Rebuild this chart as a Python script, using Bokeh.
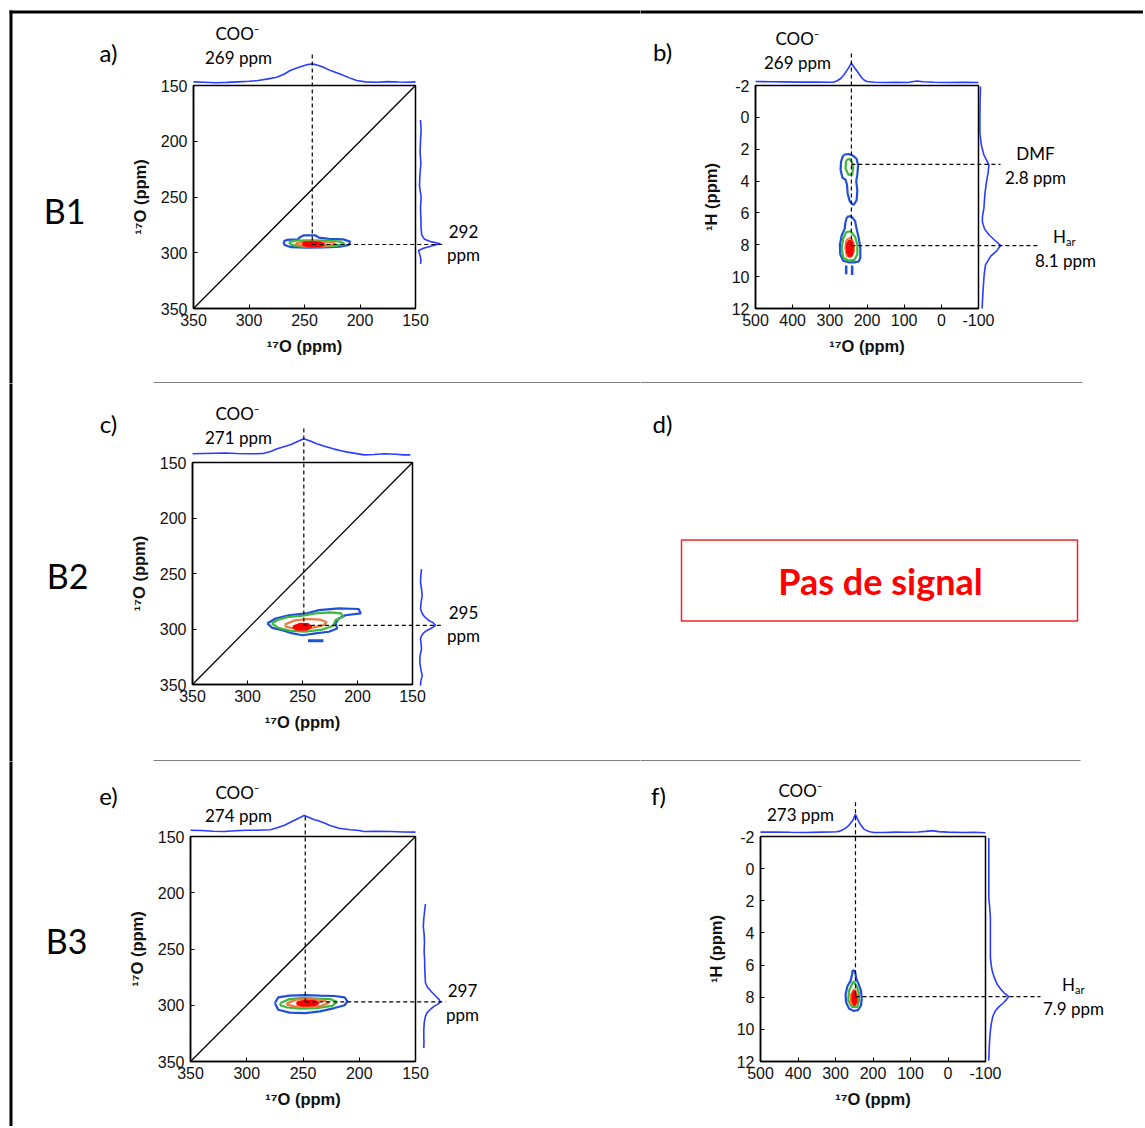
from bokeh.plotting import figure
from bokeh.models import Range1d, FixedTicker
from bokeh.layouts import row, column
from bokeh.core.properties import value
from bokeh.embed import file_html
from bokeh.resources import INLINE

# ------------------------------------------------------------------ data
O17_TICKS = [150, 200, 250, 300, 350]
O17_WIDE_TICKS = [-100, 0, 100, 200, 300, 400, 500]
H1_TICKS = [-2, 0, 2, 4, 6, 8, 10, 12]
O17_LABEL = "¹⁷O (ppm)"
H1_LABEL = "¹H (ppm)"

ROW_NAMES = ["B1", "B2", "B3"]
PANEL_LETTERS = ["a)", "b)", "c)", "d)", "e)", "f)"]
COO_TEXT = "COO⁻"
COO_SHIFTS = ["269 ppm", "269 ppm", "271 ppm", "274 ppm", "273 ppm"]   # a, b, c, e, f
O_CROSS_SHIFTS = ["292", "295", "297"]                                 # a, c, e
DMF_TEXT = ["DMF", "2.8 ppm"]
HAR_SHIFTS = ["8.1 ppm", "7.9 ppm"]                                    # b, f
NO_SIGNAL = "Pas de signal"

# peak positions (ppm) of the dashed guides
a_peak = (243, 292.6)
b_peak_x, b_dmf_y, b_har_y = 242, 2.95, 8.05
c_peak = (248.8, 296.8)
e_peak = (248, 297)
f_peak = (246.7, 7.96)

# ---- panel a projections
a_top_ppm = [350, 340, 330, 320, 310, 300, 292, 284, 275, 268, 263, 255, 248, 243, 238, 233, 226, 218, 210, 203, 195, 185, 175, 165, 158, 150]
a_top_int = [0.02, 0.0, -0.03, -0.01, 0.02, 0.05, 0.09, 0.17, 0.27, 0.45, 0.64, 0.82, 0.95, 1.0, 0.93, 0.82, 0.62, 0.45, 0.25, 0.09, 0.02, 0.0, 0.03, 0.01, 0.0, 0.02]
a_right_ppm = [181, 190, 200, 210, 220, 230, 240, 250, 260, 270, 278, 284, 288, 290, 292, 294, 296, 298, 301, 304, 307, 310]
a_right_int = [0.0, 0.03, 0.0, -0.02, 0.02, -0.03, -0.05, 0.03, 0.0, 0.02, 0.03, 0.06, 0.2, 0.5, 1.0, 0.55, 0.15, -0.1, -0.05, 0.0, 0.02, 0.0]
# ---- panel a contours
a_blue_x = [269, 266, 256, 254, 251, 240, 237, 228, 215, 209, 210, 218, 232, 248, 262, 268]
a_blue_y = [290, 288.5, 288, 286, 284.5, 284.5, 286.5, 287.5, 288, 290, 293, 294.5, 295.3, 295.5, 295, 293]
a_green_x = [264, 257, 245, 230, 218, 214, 222, 238, 252, 262]
a_green_y = [290.5, 289, 288.8, 289, 290, 292, 293.8, 294.5, 294.5, 293]
a_orange_x = [258, 250, 238, 224, 222, 232, 246, 256]
a_orange_y = [291.5, 290.2, 290, 290.8, 292.5, 293.8, 294, 293.2]
a_red_x = [251, 244, 236, 232, 236, 246, 251]
a_red_y = [291, 290.5, 290.8, 292.5, 294.2, 294.3, 293]

# ---- panel b projections
b_top_ppm = [500, 460, 420, 380, 340, 300, 289, 280, 270, 262, 252, 242, 234, 226, 219, 213, 206, 200, 180, 150, 120, 90, 75, 65, 50, 20, -20, -60, -100]
b_top_int = [0.05, 0.04, 0.03, 0.02, 0.02, 0.01, 0.02, 0.09, 0.22, 0.4, 0.68, 1.0, 0.78, 0.57, 0.38, 0.22, 0.1, 0.05, 0.01, 0.0, 0.01, 0.0, 0.05, 0.08, 0.04, 0.01, 0.0, 0.01, 0.0]
b_right_ppm = [-1.94, -1.0, 0.0, 1.0, 1.8, 2.35, 2.98, 3.5, 4.03, 4.8, 5.7, 6.2, 6.54, 7.0, 7.37, 7.7, 8.04, 8.4, 8.73, 9.26, 9.7, 10.1, 11.0, 12.0]
b_right_int = [0.0, -0.02, -0.03, -0.03, 0.05, 0.17, 0.42, 0.38, 0.3, 0.22, 0.17, 0.1, 0.09, 0.2, 0.42, 0.7, 1.0, 0.8, 0.5, 0.25, 0.2, 0.17, 0.12, 0.08]
# ---- panel b contours
b_dmf_blue_x = [262, 250, 238, 228, 224, 226, 229, 226, 228, 236, 246, 252, 254, 258, 266, 271, 270, 266]
b_dmf_blue_y = [2.35, 2.3, 2.4, 2.6, 3.0, 3.6, 4.0, 4.6, 5.2, 5.5, 5.3, 4.8, 4.2, 3.9, 3.8, 3.3, 2.8, 2.5]
b_dmf_green_x = [256, 248, 240, 237, 240, 250, 258]
b_dmf_green_y = [2.7, 2.6, 2.8, 3.2, 3.6, 3.6, 3.2]
b_har_blue_x = [254, 243, 232, 228, 222, 218, 218, 222, 234, 250, 264, 272, 273, 268, 260, 258]
b_har_blue_y = [6.25, 6.2, 6.5, 7.0, 7.6, 8.2, 8.8, 9.05, 9.1, 9.1, 9.0, 8.6, 8.0, 7.4, 7.0, 6.6]
b_har_green_x = [256, 244, 232, 226, 226, 234, 250, 264, 268, 264]
b_har_green_y = [7.2, 7.15, 7.5, 8.0, 8.6, 8.95, 9.0, 8.8, 8.2, 7.6]
b_har_orange_x = [250, 242, 236, 235, 242, 254, 258, 256]
b_har_orange_y = [7.6, 7.6, 7.9, 8.4, 8.75, 8.7, 8.2, 7.8]
b_har_red_x = [248, 241, 238, 240, 247, 253, 254]
b_har_red_y = [7.75, 7.8, 8.1, 8.6, 8.75, 8.5, 8.0]
b_tail1_x, b_tail1_y = [256, 256], [9.3, 9.85]
b_tail2_x, b_tail2_y = [240, 240], [9.3, 9.9]

# ---- panel c projections
c_top_ppm = [350, 340, 330, 320, 310, 300, 292, 285, 279, 273, 267, 261, 255, 249, 243, 237, 230, 222, 215, 209, 202, 194, 185, 176, 165, 158, 152]
c_top_int = [0.0, 0.02, 0.04, 0.05, 0.02, 0.0, 0.0, 0.03, 0.15, 0.33, 0.47, 0.6, 0.8, 1.0, 0.85, 0.67, 0.5, 0.33, 0.2, 0.11, 0.03, -0.07, -0.05, 0.0, -0.03, -0.07, -0.07]
c_right_ppm = [246, 252, 258, 264, 270, 276, 282, 286, 288, 290, 292.3, 294.5, 296.8, 298.5, 299.8, 301.5, 303.4, 306, 308.8, 313, 318, 324, 330, 336, 342, 347, 351]
c_right_int = [0.0, -0.05, -0.07, 0.0, 0.05, -0.03, -0.07, 0.05, 0.16, 0.3, 0.52, 0.85, 1.0, 0.8, 0.64, 0.35, 0.16, 0.0, -0.07, -0.03, 0.0, -0.1, -0.12, -0.05, 0.05, -0.05, -0.07]
# ---- panel c contours
c_blue_x = [282, 274.5, 262.5, 247, 235, 217, 199, 197, 211, 217, 220, 218.5, 226, 238, 250, 259, 268.5, 277.5]
c_blue_y = [295, 290.5, 287.6, 286, 283, 281.5, 282, 286, 287.6, 290.5, 295, 299.5, 302.5, 304, 305.6, 304, 301, 299]
c_blob_x, c_blob_y = [245, 231], [310.5, 310.5]
c_green_x = [278, 272, 262, 250, 238, 225, 215, 213, 220, 222, 232, 248, 262, 272]
c_green_y = [295, 291.5, 289, 288, 286, 285, 286, 289, 292, 297, 300.5, 302.5, 301.5, 299]
c_orange_x = [266, 258, 246, 234, 228, 232, 244, 258, 265]
c_orange_y = [296, 292.5, 291, 291.5, 294, 297, 299.5, 299.5, 298]
c_red_x = [258, 252, 245, 242, 246, 255, 258]
c_red_y = [297.5, 295.3, 295.5, 298, 300.5, 300.5, 299]

# ---- panel e projections
e_top_ppm = [350, 340, 330, 320, 310, 300, 290, 279, 273, 267, 262, 258, 253, 249, 244, 240, 237, 231, 226, 218, 208, 200, 196, 185, 172, 160, 150]
e_top_int = [0.02, 0.0, -0.05, -0.07, -0.02, 0.02, 0.02, 0.05, 0.18, 0.33, 0.52, 0.67, 0.85, 1.0, 0.85, 0.72, 0.67, 0.5, 0.33, 0.15, 0.05, 0.0, -0.07, -0.05, -0.07, -0.1, -0.11]
e_right_ppm = [210, 216, 223, 230, 237, 244, 252, 260, 268, 275, 280, 284, 288.7, 292, 295, 297, 299, 301, 303.6, 306.5, 309.6, 315, 321.4, 328, 333, 338]
e_right_int = [0.1, 0.05, 0.0, -0.03, 0.02, 0.04, 0.02, 0.05, 0.06, 0.08, 0.1, 0.22, 0.5, 0.72, 0.92, 1.0, 0.85, 0.6, 0.4, 0.2, 0.1, 0.03, 0.0, 0.0, 0.01, 0.0]
# ---- panel e contours
e_blue_x = [275, 272, 262, 248, 235, 222, 213, 210.5, 213, 222, 235, 248, 262, 272]
e_blue_y = [298, 293, 291.5, 291, 291.5, 291.8, 293, 296.5, 300, 302.5, 305.5, 307, 306.5, 304]
e_green_x = [270, 262, 250, 238, 226, 220, 224, 238, 252, 264, 270]
e_green_y = [298, 294.5, 293.5, 294, 294.5, 297, 300.5, 302.5, 303, 302, 300]
e_orange_x = [264, 256, 244, 232, 227, 234, 246, 258, 264]
e_orange_y = [298, 295, 294.5, 295.5, 298, 300.5, 301.5, 301, 299.5]
e_red_x = [255, 248, 240, 236, 240, 250, 255]
e_red_y = [297.5, 296, 296, 298, 300, 300.3, 299]

# ---- panel f projections
f_top_ppm = [500, 460, 420, 380, 340, 310, 298, 291, 282, 273, 266, 260, 253, 247, 241, 233, 225, 216, 208, 198, 170, 140, 110, 80, 60, 45, 38, 25, 0, -40, -70, -100]
f_top_int = [0.02, 0.03, 0.01, 0.0, 0.02, 0.03, 0.04, 0.06, 0.13, 0.24, 0.36, 0.51, 0.7, 1.0, 0.72, 0.42, 0.2, 0.09, 0.04, 0.0, 0.0, 0.02, 0.01, 0.03, 0.06, 0.09, 0.09, 0.05, 0.02, 0.0, 0.01, -0.01]
f_right_ppm = [-1.9, -1.0, 0.0, 1.0, 1.82, 2.5, 3.06, 4.0, 5.0, 5.54, 6.0, 6.36, 6.8, 7.19, 7.5, 7.71, 7.96, 8.15, 8.33, 8.6, 8.84, 9.2, 9.67, 10.1, 10.5, 11.2, 11.94]
f_right_int = [0.0, 0.0, 0.0, 0.0, 0.0, 0.05, 0.08, 0.08, 0.08, 0.08, 0.12, 0.17, 0.28, 0.42, 0.6, 0.75, 1.0, 0.88, 0.75, 0.5, 0.33, 0.2, 0.12, 0.08, 0.05, 0.02, 0.0]
# ---- panel f contours
f_blue_x = [254, 248, 244, 238, 232, 230, 232, 240, 252, 264, 272, 273, 268, 260, 256]
f_blue_y = [6.3, 6.4, 6.9, 7.2, 7.6, 8.1, 8.5, 8.8, 8.85, 8.7, 8.3, 7.8, 7.3, 7.0, 6.6]
f_green_x = [252, 244, 238, 237, 242, 256, 266, 264, 258]
f_green_y = [7.0, 7.3, 7.7, 8.2, 8.6, 8.6, 8.2, 7.6, 7.3]
f_orange_x = [250, 244, 242, 248, 258, 260]
f_orange_y = [7.5, 7.7, 8.2, 8.5, 8.4, 7.9]
f_red_x = [250, 245, 244, 250, 255, 254]
f_red_y = [7.6, 7.9, 8.3, 8.5, 8.2, 7.8]

# ------------------------------------------------------------------ style
SPEC = "#2a3cff"
C_BLUE = "#2050d8"
C_GREEN = "#3cb93c"
C_ORANGE = "#f07838"
C_RED = "#ff0000"
CAL = "Lato"
ARIAL = "Liberation Sans"
XR = 1143   # right edge of layout (page px)
YB = 1126   # bottom edge of layout (page px)


def make_fig(box, frame, xr, yr, xticks=None, yticks=None, xlabel=None, ylabel=None):
    bx0, by0, bx1, by1 = box
    L, T, R, B = frame
    axes = xticks is not None
    kw = {} if axes else dict(x_axis_location=None, y_axis_location=None)
    p = figure(width=bx1 - bx0, height=by1 - by0, output_backend="svg", toolbar_location=None,
               x_range=Range1d(xr[0], xr[1]), y_range=Range1d(yr[1], yr[0]),
               min_border_left=L - bx0, min_border_right=bx1 - R,
               min_border_top=T - by0, min_border_bottom=by1 - B, **kw)
    p.xgrid.visible = False
    p.ygrid.visible = False
    p.border_fill_color = "white"
    p.background_fill_color = "white"
    if axes:
        p.outline_line_color = "black"
        p.outline_line_width = 1.5
        for ax, ticks, lab, stand, lstand in ((p.xaxis[0], xticks, xlabel, 5, 8),
                                              (p.yaxis[0], yticks, ylabel, 6, 9)):
            ax.ticker = FixedTicker(ticks=ticks)
            ax.major_label_overrides = {t: str(t) for t in ticks if t < 0}
            ax.axis_label = lab
            ax.major_tick_in = 4
            ax.major_tick_out = 0
            ax.minor_tick_in = 0
            ax.minor_tick_out = 0
            ax.major_tick_line_color = "black"
            ax.axis_line_color = "black"
            ax.axis_line_width = 1.5
            ax.major_label_text_font = ARIAL
            ax.major_label_text_font_size = "16px"
            ax.major_label_text_color = "#111111"
            ax.major_label_standoff = stand
            ax.axis_label_text_font = ARIAL
            ax.axis_label_text_font_size = "16.5px"
            ax.axis_label_text_font_style = "bold"
            ax.axis_label_text_color = "#111111"
            ax.axis_label_standoff = lstand
    else:
        p.outline_line_color = None

    def X(px):
        return xr[0] + (px - L) / (R - L) * (xr[1] - xr[0])

    def Y(py):
        return yr[0] + (py - T) / (B - T) * (yr[1] - yr[0])
    return p, X, Y


def txt(p, x, y, s, size, font=CAL, color="black", style="normal", align="center"):
    p.text(x=[x], y=[y], text=[s], text_font=value(font), text_font_size=value(size),
           text_color=color, text_font_style=style, text_align=align,
           text_baseline="middle", level="overlay")


def seg(p, xs, ys, color="black", width=1.0, dash="solid"):
    p.line(x=xs, y=ys, line_color=color, line_width=width, line_dash=dash, level="overlay")


def top_proj(p, Y, frame, ppm, inten, gap, h):
    T = frame[1]
    p.line(x=ppm, y=[Y(T - gap - v * h) for v in inten], line_color=SPEC, line_width=1.6, level="overlay")


def right_proj(p, X, frame, ppm, inten, gap, w):
    R = frame[2]
    p.line(x=[X(R + gap + v * w) for v in inten], y=ppm, line_color=SPEC, line_width=1.6, level="overlay")


def contour(p, xs, ys, color, fill=False, width=2.2):
    if fill:
        p.patch(x=xs, y=ys, fill_color=color, line_color=color, line_width=width)
    else:
        p.line(x=xs + xs[:1], y=ys + ys[:1], line_color=color, line_width=width)


def borders(p, X, Y, left=None, top=None, sep=None):
    if left is not None:
        seg(p, [X(10.5), X(10.5)], [Y(left[0]), Y(left[1])], width=3)
    if top is not None:
        seg(p, [X(top[0]), X(top[1])], [Y(11.5), Y(11.5)], width=3)
    if sep is not None:
        seg(p, [X(sep[0]), X(sep[1])], [Y(sep[2]), Y(sep[2])], width=1.2)


DASH = "4 3"

# ------------------------------------------------------------------ panel a
FA = (193, 85, 415, 308)
pa, Xa, Ya = make_fig((0, 0, 640, 383), FA, (350, 150), (150, 350), O17_TICKS, O17_TICKS, O17_LABEL, O17_LABEL)
pa.line(x=[350, 150], y=[350, 150], line_color="black", line_width=1.3)
contour(pa, a_blue_x, a_blue_y, C_BLUE)
contour(pa, a_green_x, a_green_y, C_GREEN)
contour(pa, a_orange_x, a_orange_y, C_ORANGE)
contour(pa, a_red_x, a_red_y, C_RED, fill=True)
top_proj(pa, Ya, FA, a_top_ppm, a_top_int, 3.3, 18.3)
right_proj(pa, Xa, FA, a_right_ppm, a_right_int, 5, 20)
seg(pa, [a_peak[0], a_peak[0]], [Ya(54), a_peak[1]], dash=DASH, width=1.2)
seg(pa, [a_peak[0], Xa(443)], [a_peak[1], a_peak[1]], dash=DASH, width=1.2)
txt(pa, Xa(237), Ya(33), COO_TEXT, "17px")
txt(pa, Xa(238), Ya(57), COO_SHIFTS[0], "17px")
txt(pa, Xa(463), Ya(231), O_CROSS_SHIFTS[0], "17px")
txt(pa, Xa(463), Ya(254), "ppm", "17px")
txt(pa, Xa(108), Ya(52), PANEL_LETTERS[0], "24px")
txt(pa, Xa(64), Ya(210), ROW_NAMES[0], "34px")
borders(pa, Xa, Ya, left=(10, 383), top=(9, 640), sep=(153, 640, 382.5))

# ------------------------------------------------------------------ panel b
FB = (755, 85, 978, 308)
pb, Xb, Yb = make_fig((640, 0, XR, 383), FB, (500, -100), (-2, 12), O17_WIDE_TICKS, H1_TICKS, O17_LABEL, H1_LABEL)
contour(pb, b_dmf_blue_x, b_dmf_blue_y, C_BLUE)
contour(pb, b_dmf_green_x, b_dmf_green_y, C_GREEN)
contour(pb, b_har_blue_x, b_har_blue_y, C_BLUE)
contour(pb, b_har_green_x, b_har_green_y, C_GREEN)
contour(pb, b_har_orange_x, b_har_orange_y, C_ORANGE)
contour(pb, b_har_red_x, b_har_red_y, C_RED, fill=True)
pb.line(x=b_tail1_x, y=b_tail1_y, line_color=C_BLUE, line_width=2.5)
pb.line(x=b_tail2_x, y=b_tail2_y, line_color=C_BLUE, line_width=2.5)
top_proj(pb, Yb, FB, b_top_ppm, b_top_int, 3, 19.3)
right_proj(pb, Xb, FB, b_right_ppm, b_right_int, 2, 20)
seg(pb, [b_peak_x, b_peak_x], [Yb(53), b_har_y], dash=DASH, width=1.2)
seg(pb, [b_peak_x, Xb(1000)], [b_dmf_y, b_dmf_y], dash=DASH, width=1.2)
seg(pb, [b_peak_x, Xb(1038)], [b_har_y, b_har_y], dash=DASH, width=1.2)
txt(pb, Xb(797), Yb(38), COO_TEXT, "17px")
txt(pb, Xb(797), Yb(62), COO_SHIFTS[1], "17px")
txt(pb, Xb(1035), Yb(153), DMF_TEXT[0], "17px")
txt(pb, Xb(1035), Yb(177), DMF_TEXT[1], "17px")
txt(pb, Xb(1059), Yb(236), "H", "17px")
txt(pb, Xb(1065.5), Yb(241), "ar", "11px", align="left")
txt(pb, Xb(1065), Yb(260), HAR_SHIFTS[0], "17px")
txt(pb, Xb(662), Yb(51), PANEL_LETTERS[1], "24px")
borders(pb, Xb, Yb, top=(640, XR), sep=(640, 1082, 382.5))

# ------------------------------------------------------------------ panel c
FC = (192, 462, 412, 684)
pc, Xc, Yc = make_fig((0, 383, 640, 761), FC, (350, 150), (150, 350), O17_TICKS, O17_TICKS, O17_LABEL, O17_LABEL)
pc.line(x=[350, 150], y=[350, 150], line_color="black", line_width=1.3)
contour(pc, c_blue_x, c_blue_y, C_BLUE)
pc.line(x=c_blob_x, y=c_blob_y, line_color=C_BLUE, line_width=3)
contour(pc, c_green_x, c_green_y, C_GREEN)
contour(pc, c_orange_x, c_orange_y, C_ORANGE)
contour(pc, c_red_x, c_red_y, C_RED, fill=True)
top_proj(pc, Yc, FC, c_top_ppm, c_top_int, 8.7, 15)
right_proj(pc, Xc, FC, c_right_ppm, c_right_int, 9, 14)
seg(pc, [c_peak[0], c_peak[0]], [Yc(428), c_peak[1]], dash=DASH, width=1.2)
seg(pc, [c_peak[0], Xc(443)], [c_peak[1], c_peak[1]], dash=DASH, width=1.2)
txt(pc, Xc(237), Yc(413), COO_TEXT, "17px")
txt(pc, Xc(238), Yc(437), COO_SHIFTS[2], "17px")
txt(pc, Xc(463), Yc(612), O_CROSS_SHIFTS[1], "17px")
txt(pc, Xc(463), Yc(635), "ppm", "17px")
txt(pc, Xc(108), Yc(423), PANEL_LETTERS[2], "24px")
txt(pc, Xc(67), Yc(575), ROW_NAMES[1], "34px")
borders(pc, Xc, Yc, left=(383, 761), sep=(153, 640, 760.5))

# ------------------------------------------------------------------ panel d (no data)
FD = (660, 462, 1100, 684)
pd, Xd, Yd = make_fig((640, 383, XR, 761), FD, (660, 1100), (462, 684))
txt(pd, Xd(662), Yd(423), PANEL_LETTERS[3], "24px")
pd.quad(left=[Xd(681)], right=[Xd(1077)], top=[Yd(539.5)], bottom=[Yd(620.5)],
        fill_color=None, line_color="#ff2020", line_width=1.5, level="overlay")
txt(pd, Xd(880), Yd(580), NO_SIGNAL, "36px", color="#ff0000", style="bold")
seg(pd, [Xd(640), Xd(1080)], [Yd(760.5), Yd(760.5)], width=1.2)

# ------------------------------------------------------------------ panel e
FE = (190, 836, 415, 1061)
pe, Xe, Ye = make_fig((0, 761, 640, YB), FE, (350, 150), (150, 350), O17_TICKS, O17_TICKS, O17_LABEL, O17_LABEL)
pe.line(x=[350, 150], y=[350, 150], line_color="black", line_width=1.3)
contour(pe, e_blue_x, e_blue_y, C_BLUE)
contour(pe, e_green_x, e_green_y, C_GREEN)
contour(pe, e_orange_x, e_orange_y, C_ORANGE)
contour(pe, e_red_x, e_red_y, C_RED, fill=True)
top_proj(pe, Ye, FE, e_top_ppm, e_top_int, 6, 15)
right_proj(pe, Xe, FE, e_right_ppm, e_right_int, 8.3, 16.7)
seg(pe, [e_peak[0], e_peak[0]], [Ye(816), e_peak[1]], dash=DASH, width=1.2)
seg(pe, [e_peak[0], Xe(445)], [e_peak[1], e_peak[1]], dash=DASH, width=1.2)
txt(pe, Xe(237), Ye(792), COO_TEXT, "17px")
txt(pe, Xe(238), Ye(815), COO_SHIFTS[3], "17px")
txt(pe, Xe(462), Ye(990), O_CROSS_SHIFTS[2], "17px")
txt(pe, Xe(462), Ye(1014), "ppm", "17px")
txt(pe, Xe(108), Ye(795), PANEL_LETTERS[4], "24px")
txt(pe, Xe(66), Ye(940), ROW_NAMES[2], "34px")
borders(pe, Xe, Ye, left=(761, YB))

# ------------------------------------------------------------------ panel f
FF = (760, 836, 985, 1061)
pf, Xf, Yf = make_fig((640, 761, XR, YB), FF, (500, -100), (-2, 12), O17_WIDE_TICKS, H1_TICKS, O17_LABEL, H1_LABEL)
contour(pf, f_blue_x, f_blue_y, C_BLUE)
contour(pf, f_green_x, f_green_y, C_GREEN)
contour(pf, f_orange_x, f_orange_y, C_ORANGE)
contour(pf, f_red_x, f_red_y, C_RED, fill=True)
top_proj(pf, Yf, FF, f_top_ppm, f_top_int, 4, 18.3)
right_proj(pf, Xf, FF, f_right_ppm, f_right_int, 3.3, 20)
seg(pf, [f_peak[0], f_peak[0]], [Yf(801.7), f_peak[1]], dash=DASH, width=1.2)
seg(pf, [f_peak[0], Xf(1040)], [f_peak[1], f_peak[1]], dash=DASH, width=1.2)
txt(pf, Xf(800), Yf(790), COO_TEXT, "17px")
txt(pf, Xf(800), Yf(814), COO_SHIFTS[4], "17px")
txt(pf, Xf(1068), Yf(984), "H", "17px")
txt(pf, Xf(1074.5), Yf(989), "ar", "11px", align="left")
txt(pf, Xf(1073), Yf(1008), HAR_SHIFTS[1], "17px")
txt(pf, Xf(658), Yf(795), PANEL_LETTERS[5], "24px")

layout = column(row(pa, pb), row(pc, pd), row(pe, pf))
open("out.html", "w").write(file_html(layout, INLINE))
